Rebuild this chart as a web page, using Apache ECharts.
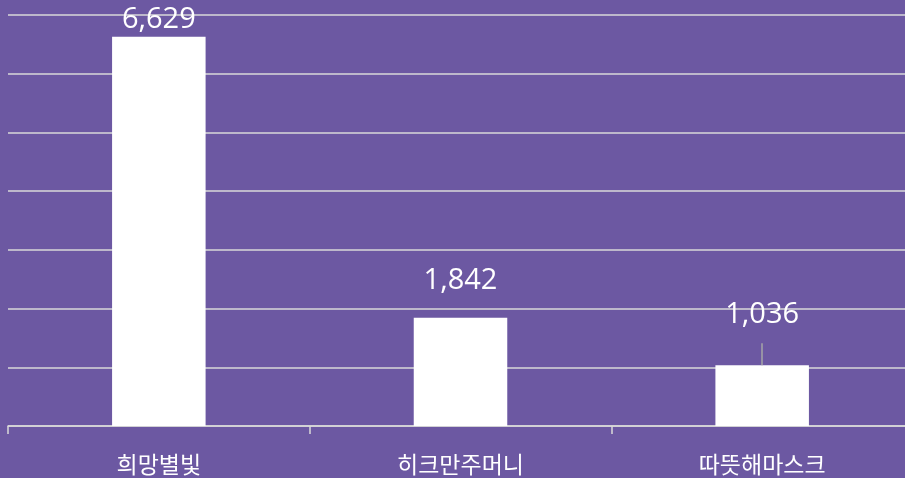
<!DOCTYPE html>
<html><head><meta charset="utf-8">
<script src="https://cdn.jsdelivr.net/npm/echarts@6/dist/echarts.min.js"></script>
<style>html,body{margin:0;padding:0;background:#6C58A2;overflow:hidden;width:905px;height:478px;}#c{width:913px;height:478px;}</style>
</head><body><div id="c"></div>
<script>
const categories = ['희망별빛', '히크만주머니', '따뜻해마스크'];
const values = [6629, 1842, 1036];
const labelDistances = [2, 22, 35];
const leaderEnd = 1410;

const chart = echarts.init(document.getElementById('c'));
chart.setOption({
  backgroundColor: '#6C58A2',
  animation: false,
  grid: { left: 8, top: 15, right: 0, bottom: 52, containLabel: false },
  xAxis: {
    type: 'category', data: categories,
    axisLine: { lineStyle: { color: '#D9D9D9', width: 1.5 } },
    axisTick: { show: true, length: 8, lineStyle: { color: '#D9D9D9', width: 1.5 } },
    axisLabel: { color: '#FFFFFF', fontSize: 23, fontFamily: 'Noto Sans CJK KR', margin: 27 }
  },
  yAxis: {
    type: 'value', min: 0, max: 7000, interval: 1000,
    axisLabel: { show: false }, axisLine: { show: false }, axisTick: { show: false },
    splitLine: { lineStyle: { color: '#D9D9D9', width: 1.5 } }
  },
  series: [{
    type: 'bar', barWidth: '31%',
    itemStyle: { color: '#FFFFFF' },
    data: values.map((v, i) => ({
      value: v,
      label: { distance: labelDistances[i] }
    })),
    label: {
      show: true, position: 'top', color: '#FFFFFF', fontSize: 29, lineHeight: 30,
      fontFamily: 'Open Sans', formatter: p => p.value.toLocaleString('en-US')
    },
    markLine: {
      silent: true, symbol: 'none', label: { show: false },
      lineStyle: { color: '#A6A6A6', width: 1.5, type: 'solid' },
      data: [[{ coord: [categories[2], values[2]] }, { coord: [categories[2], leaderEnd] }]]
    }
  }]
});
</script></body></html>
